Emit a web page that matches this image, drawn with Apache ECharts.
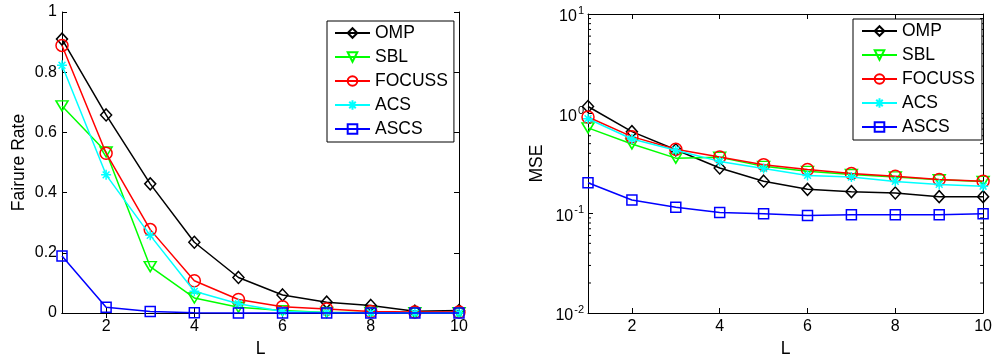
<!DOCTYPE html>
<html>
<head>
<meta charset="utf-8">
<script src="https://cdn.jsdelivr.net/npm/echarts@6/dist/echarts.min.js"></script>
<style>html,body{margin:0;padding:0;background:#fff;}#c{width:995px;height:363px;}</style>
</head>
<body>
<div id="c"></div>
<script>
const L = [1, 2, 3, 4, 5, 6, 7, 8, 9, 10];
const xTicks = [2, 4, 6, 8, 10];
const names = ['OMP', 'SBL', 'FOCUSS', 'ACS', 'ASCS'];
const colors = ['#000000', '#00ff00', '#ff0000', '#00ffff', '#0000ff'];

const frOMP    = [0.910, 0.658, 0.429, 0.235, 0.118, 0.060, 0.036, 0.025, 0.006, 0.008];
const frSBL    = [0.688, 0.535, 0.154, 0.050, 0.019, 0.008, 0.002, 0.002, 0.001, 0.001];
const frFOCUSS = [0.889, 0.531, 0.277, 0.107, 0.045, 0.021, 0.013, 0.005, 0.003, 0.003];
const frACS    = [0.823, 0.459, 0.258, 0.072, 0.031, 0.005, 0.002, 0.001, 0.000, 0.000];
const frASCS   = [0.189, 0.019, 0.005, 0.001, 0.000, 0.000, 0.000, 0.000, 0.000, 0.000];

const mseOMP    = [1.18, 0.66, 0.434, 0.285, 0.210, 0.174, 0.165, 0.160, 0.147, 0.147];
const mseSBL    = [0.72, 0.497, 0.358, 0.365, 0.296, 0.264, 0.245, 0.232, 0.217, 0.209];
const mseFOCUSS = [0.927, 0.588, 0.440, 0.367, 0.308, 0.275, 0.251, 0.236, 0.219, 0.210];
const mseACS    = [0.89, 0.557, 0.430, 0.332, 0.281, 0.240, 0.231, 0.209, 0.195, 0.187];
const mseASCS   = [0.203, 0.136, 0.115, 0.102, 0.099, 0.095, 0.097, 0.097, 0.097, 0.099];

const frTicks = [0, 0.2, 0.4, 0.6, 0.8, 1];
const mseTicks = [0.01, 0.1, 1, 10];
const mseMinor = [0.02,0.03,0.04,0.05,0.06,0.07,0.08,0.09,0.2,0.3,0.4,0.5,0.6,0.7,0.8,0.9,2,3,4,5,6,7,8,9];

const FONT = 'Liberation Sans, Arial, Helvetica, sans-serif';
const ASTER = 'path://M5,0L5,10M0,5L10,5M1.6,1.6L8.4,8.4M1.6,8.4L8.4,1.6';
const symbols = [
  {symbol: 'diamond', size: [11, 12], rot: 0},
  {symbol: 'triangle', size: [12, 10], rot: 180},
  {symbol: 'circle', size: 12, rot: 0},
  {symbol: ASTER, size: 10, rot: 0},
  {symbol: 'rect', size: 10, rot: 0}
];

const frData = [frOMP, frSBL, frFOCUSS, frACS, frASCS];
const mseData = [mseOMP, mseSBL, mseFOCUSS, mseACS, mseASCS];

function mkSeries(arr, gi) {
  return arr.map((vals, i) => ({
    name: names[i],
    type: 'line',
    xAxisIndex: gi * 2,
    yAxisIndex: gi * 2,
    data: L.map((x, k) => [x, vals[k]]),
    symbol: symbols[i].symbol,
    symbolSize: symbols[i].size,
    symbolRotate: symbols[i].rot,
    showAllSymbol: true,
    lineStyle: {color: colors[i], width: 1.5},
    itemStyle: {color: 'rgba(255,255,255,0)', borderColor: colors[i], borderWidth: 1.5},
    emphasis: {disabled: true},
    animation: false,
    clip: false,
    z: 3 + i
  }));
}

function xAx(gi, top) {
  return {
    type: 'value', gridIndex: gi, min: 1, max: 10, position: top ? 'top' : 'bottom',
    axisLine: {show: true, lineStyle: {color: '#000', width: 1}},
    axisTick: {show: true, inside: true, length: 5, customValues: xTicks, lineStyle: {color: '#000'}},
    axisLabel: top ? {show: false} : {show: true, customValues: xTicks, color: '#000', fontSize: 16, fontFamily: FONT, margin: 6},
    splitLine: {show: false},
    name: top ? '' : 'L', nameLocation: 'middle', nameGap: 27,
    nameTextStyle: {color: '#000', fontSize: 17.5, fontFamily: FONT}
  };
}

const supFmt = v => '{a|10}{s|' + Math.round(Math.log10(v)) + '}';

const option = {
  animation: false,
  backgroundColor: '#fff',
  grid: [
    {left: 62, top: 12, width: 397, height: 303},
    {left: 588, top: 14, width: 396, height: 303}
  ],
  xAxis: [xAx(0, false), xAx(0, true), xAx(1, false), xAx(1, true)],
  yAxis: [
    {type: 'value', gridIndex: 0, min: 0, max: 1, position: 'left',
     axisLine: {show: true, lineStyle: {color: '#000'}},
     axisTick: {show: true, inside: true, length: 5, customValues: frTicks, lineStyle: {color: '#000'}},
     axisLabel: {customValues: frTicks, color: '#000', fontSize: 16, fontFamily: FONT, margin: 5},
     splitLine: {show: false},
     name: 'Fairure Rate', nameLocation: 'middle', nameGap: 34, nameRotate: 90,
     nameTextStyle: {color: '#000', fontSize: 17.5, fontFamily: FONT}},
    {type: 'value', gridIndex: 0, min: 0, max: 1, position: 'right',
     axisLine: {show: true, lineStyle: {color: '#000'}},
     axisTick: {show: true, inside: true, length: 5, customValues: frTicks, lineStyle: {color: '#000'}},
     axisLabel: {show: false}, splitLine: {show: false}},
    {type: 'log', logBase: 10, gridIndex: 1, min: 0.01, max: 10, position: 'left',
     axisLine: {show: true, lineStyle: {color: '#000'}},
     axisTick: {show: true, inside: true, length: 5, customValues: mseTicks, lineStyle: {color: '#000'}},
     axisLabel: {customValues: mseTicks, color: '#000', fontFamily: FONT, margin: 4, formatter: supFmt,
       padding: [6, 0, 0, 0],
       rich: {a: {fontSize: 16, fontFamily: FONT, color: '#000'},
              s: {fontSize: 11, fontFamily: FONT, color: '#000', padding: [0, 0, 12, 1]}}},
     splitLine: {show: false},
     name: 'MSE', nameLocation: 'middle', nameGap: 42, nameRotate: 90,
     nameTextStyle: {color: '#000', fontSize: 17.5, fontFamily: FONT}},
    {type: 'log', logBase: 10, gridIndex: 1, min: 0.01, max: 10, position: 'right',
     axisLine: {show: true, lineStyle: {color: '#000'}},
     axisTick: {show: true, inside: true, length: 5, customValues: mseTicks, lineStyle: {color: '#000'}},
     axisLabel: {show: false}, splitLine: {show: false}}
  ],
  legend: [
    {data: names, orient: 'vertical', left: 327, top: 21, itemWidth: 35, itemHeight: 12, itemGap: 4,
     padding: [2, 6, 3, 7], borderColor: '#000', borderWidth: 1, backgroundColor: '#fff', selectedMode: false,
     textStyle: {color: '#000', fontSize: 17.5, fontFamily: FONT, lineHeight: 20}, z: 10},
    {data: names, orient: 'vertical', left: 853, top: 19, itemWidth: 35, itemHeight: 12, itemGap: 4,
     padding: [2, 7, 3, 8], borderColor: '#000', borderWidth: 1, backgroundColor: '#fff', selectedMode: false,
     textStyle: {color: '#000', fontSize: 17.5, fontFamily: FONT, lineHeight: 20}, z: 10}
  ],
  series: [].concat(mkSeries(frData, 0), mkSeries(mseData, 1), [{
    type: 'custom', name: 'minor', xAxisIndex: 2, yAxisIndex: 2, silent: true, clip: false, z: 2,
    data: mseMinor.map(v => [1, v]),
    renderItem: function (params, api) {
      const v = api.value(1);
      const pl = api.coord([1, v]);
      const pr = api.coord([10, v]);
      return {type: 'group', children: [
        {type: 'line', shape: {x1: pl[0], y1: pl[1], x2: pl[0] + 3, y2: pl[1]}, style: {stroke: '#000', lineWidth: 1}},
        {type: 'line', shape: {x1: pr[0] - 3, y1: pr[1], x2: pr[0], y2: pr[1]}, style: {stroke: '#000', lineWidth: 1}}
      ]};
    }
  }])
};

const chart = echarts.init(document.getElementById('c'), null, {renderer: 'canvas'});
chart.setOption(option);
</script>
</body>
</html>
